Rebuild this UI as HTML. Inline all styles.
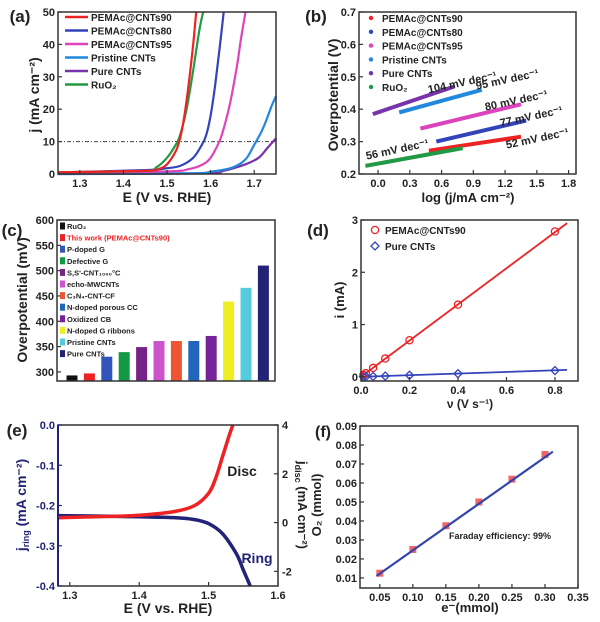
<!DOCTYPE html>
<html><head><meta charset="utf-8">
<style>
html,body{margin:0;padding:0;background:#fff;}
svg{display:block;font-family:"Liberation Sans",Arial,sans-serif;font-weight:bold;}
</style></head>
<body>
<svg id="fig" width="600" height="622" viewBox="0 0 600 622" xmlns="http://www.w3.org/2000/svg"></svg>
<script>
// ---------- Panel (a) data ----------
const aNames = ["PEMAc@CNTs90","PEMAc@CNTs80","PEMAc@CNTs95","Pristine CNTs","Pure CNTs","RuO2"];
const aColors = ["#ee2222","#3344bb","#dd44bb","#2288dd","#7733aa","#229944"];
const aE90 = [1.25,1.45,1.48,1.5,1.52,1.53,1.54,1.55,1.56,1.567];
const aJ90 = [0.5,1,1.5,3,7,11,18,28,40,50];
const aE80 = [1.25,1.45,1.5,1.53,1.56,1.58,1.59,1.6,1.61,1.62,1.63];
const aJ80 = [0.5,1.2,1.8,2.5,5,9,12,18,27,38,50];
const aE95 = [1.25,1.5,1.55,1.58,1.6,1.62,1.63,1.645,1.66,1.67,1.68];
const aJ95 = [0.3,0.8,1.5,2.8,5,10,14,22,33,42,50];
const aEPr = [1.25,1.55,1.6,1.65,1.68,1.7,1.72,1.74,1.75];
const aJPr = [0,0.2,0.7,2,4.5,9,14,21,24];
const aEPu = [1.25,1.58,1.63,1.68,1.71,1.73,1.75];
const aJPu = [0,0.2,1,3,5,8,11];
const aERu = [1.25,1.45,1.475,1.5,1.52,1.53,1.545,1.56,1.575,1.583];
const aJRu = [0.5,1,2,5,9,12,20,32,45,50];
const aXTicks = [1.3,1.4,1.5,1.6,1.7];
const aYTicks = [0,10,20,30,40,50];
// ---------- Panel (b) data ----------
const bNames = ["PEMAc@CNTs90","PEMAc@CNTs80","PEMAc@CNTs95","Pristine CNTs","Pure CNTs","RuO2"];
const bColors = ["#ee2222","#3344bb","#dd44bb","#2288dd","#7733aa","#229944"];
const bXStart = [0.48,0.55,0.4,0.2,-0.05,-0.12];
const bXEnd = [1.35,1.4,1.35,0.98,0.72,0.8];
const bYStart = [0.272,0.3,0.34,0.39,0.385,0.225];
const bYEnd = [0.315,0.365,0.415,0.46,0.47,0.28];
const bSlopes = ["52","77","80","95","104","56"];
const bXTicks = [0.0,0.3,0.6,0.9,1.2,1.5,1.8];
const bYTicks = [0.2,0.3,0.4,0.5,0.6,0.7];
// ---------- Panel (c) data ----------
const cNames = ["RuO\u2082","This work (PEMAc@CNTs90)","P-doped G","Defective G","S,S'-CNT\u2081\u2080\u2080\u2080\u00b0C","echo-MWCNTs","C\u2083N\u2084-CNT-CF","N-doped porous CC","Oxidized CB","N-doped G ribbons","Pristine CNTs","Pure CNTs"];
const cValues = [293,297,330,339,349,361,361,361,371,439,466,510];
const cColors = ["#111111","#ee2222","#3355bb","#119944","#772288","#cc55cc","#ee5533","#2266bb","#772299","#eeee22","#55ccdd","#222277"];
const cYTicks = [300,350,400,450,500,550,600];
// ---------- Panel (d) data ----------
const dV = [0.01,0.02,0.05,0.1,0.2,0.4,0.8];
const dRed = [0.035,0.07,0.17,0.35,0.7,1.38,2.78];
const dBlue = [0.003,0.005,0.008,0.015,0.03,0.06,0.12];
const dRedSlope = [3.46];
const dBlueSlope = [0.155];
const dXTicks = [0.0,0.2,0.4,0.6,0.8];
const dYTicks = [0,1,2,3];
// ---------- Panel (e) data ----------
const eDiscE = [1.283,1.35,1.4,1.45,1.48,1.5,1.51,1.52,1.53,1.535];
const eDiscJ = [0.2,0.25,0.3,0.45,0.7,1.2,1.8,2.7,3.6,4];
const eRingE = [1.283,1.4,1.45,1.48,1.5,1.52,1.54,1.55,1.56];
const eRingJ = [-0.225,-0.228,-0.23,-0.235,-0.245,-0.27,-0.32,-0.36,-0.4];
const eXTicks = [1.3,1.4,1.5,1.6];
const eYTicks = [0,-0.1,-0.2,-0.3,-0.4];
const eY2Ticks = [4,2,0,-2];
// ---------- Panel (f) data ----------
const fX = [0.05,0.10,0.15,0.20,0.25,0.30];
const fY = [0.0125,0.025,0.0375,0.05,0.062,0.075];
const fFitX = [0.045,0.312];
const fFitY = [0.011,0.0765];
const fXTicks = [0.05,0.10,0.15,0.20,0.25,0.30,0.35];
const fYTicks = [0.01,0.02,0.03,0.04,0.05,0.06,0.07,0.08,0.09];

const NS = "http://www.w3.org/2000/svg";
const svg = document.getElementById("fig");
function mk(tag, attrs, parent){
  const el = document.createElementNS(NS, tag);
  for (const k in attrs) el.setAttribute(k, attrs[k]);
  (parent||svg).appendChild(el);
  return el;
}
function sc(d0,d1,p0,p1){return v => p0 + (v-d0)/(d1-d0)*(p1-p0);}
function txt(x,y,s,size,opts){
  opts = opts||{};
  const t = mk("text",{x:x,y:y,"font-size":size,fill:opts.fill||"#222","text-anchor":opts.anchor||"middle"});
  if (opts.rot!==undefined) t.setAttribute("transform","rotate("+opts.rot+" "+x+" "+y+")");
  t.textContent = s;
  return t;
}
function frame(x0,y0,x1,y1,name){
  const r = mk("rect",{x:x0,y:y0,width:x1-x0,height:y1-y0,fill:"none",stroke:"#333","stroke-width":1.5});
  
  
}
function path(pts,color,w,name){
  const p = mk("path",{d:"M"+pts.map(q=>q[0].toFixed(1)+","+q[1].toFixed(1)).join("L"),fill:"none",stroke:color,"stroke-width":w,"stroke-linejoin":"round"});
  
  
  return p;
}
function smooth(pts,color,w,name){
  let d = "M"+pts[0][0].toFixed(1)+","+pts[0][1].toFixed(1);
  for (let i=0;i<pts.length-1;i++){
    const p0=pts[Math.max(0,i-1)], p1=pts[i], p2=pts[i+1], p3=pts[Math.min(pts.length-1,i+2)];
    const c1=[p1[0]+(p2[0]-p0[0])/6, p1[1]+(p2[1]-p0[1])/6];
    const c2=[p2[0]-(p3[0]-p1[0])/6, p2[1]-(p3[1]-p1[1])/6];
    d += "C"+c1[0].toFixed(1)+","+c1[1].toFixed(1)+" "+c2[0].toFixed(1)+","+c2[1].toFixed(1)+" "+p2[0].toFixed(1)+","+p2[1].toFixed(1);
  }
  const p = mk("path",{d:d,fill:"none",stroke:color,"stroke-width":w,"stroke-linejoin":"round"});
  
  
  return p;
}
function xticks(ticks,X,yb,fmt,lab){
  ticks.forEach(v=>{
    mk("line",{x1:X(v),x2:X(v),y1:yb,y2:yb-4,stroke:"#333","stroke-width":1.2});
    const t = txt(X(v),yb+13,fmt(v),11);
    
    
  });
}
function yticks(ticks,Y,xl,fmt,lab,color){
  ticks.forEach(v=>{
    mk("line",{x1:xl,x2:xl+4,y1:Y(v),y2:Y(v),stroke:color||"#333","stroke-width":1.2});
    const t = txt(xl-3,Y(v)+4,fmt(v),11,{anchor:"end",fill:color||"#222"});
    
    
  });
}

// ================= Panel (a) =================
(function(){
  const X = sc(1.25,1.75,58,276), Y = sc(0,50,174,12);
  const dash = mk("line",{x1:58,x2:276,y1:Y(10),y2:Y(10),stroke:"#444","stroke-width":1,"stroke-dasharray":"4,2,1,2"});
  
  
  const Es=[aE90,aE80,aE95,aEPr,aEPu,aERu], Js=[aJ90,aJ80,aJ95,aJPr,aJPu,aJRu];
  const order=[4,3,2,1,5,0];
  order.forEach(i=>{
    smooth(Es[i].map((e,k)=>[X(e),Y(Js[i][k])]),aColors[i],2.2,"lsv-curve-"+i);
  });
  frame(58,12,276,174,"panel-a-plot-area");
  xticks(aXTicks,X,174,v=>v.toFixed(1),"a-x");
  yticks(aYTicks,Y,58,v=>String(v),"a-y");
  aNames.forEach((n,i)=>{
    const y = 17+i*13.5;
    mk("line",{x1:65,x2:88,y1:y,y2:y,stroke:aColors[i],"stroke-width":2.5});
    const t = txt(91,y+4,n==="RuO2"?"RuO\u2082":n,10,{anchor:"start"});
    
    
  });
  const xt = txt(167,202,"E (V vs. RHE)",14);  
  const yt = txt(39,95,"j (mA cm\u207b\u00b2)",14,{rot:-90});  
  const pl = txt(20,22,"(a)",17);  
})();

// ================= Panel (b) =================
(function(){
  const X = sc(-0.18,1.87,359,576), Y = sc(0.2,0.7,174,12);
  bXStart.forEach((xs,i)=>{
    path([[X(xs),Y(bYStart[i])],[X(bXEnd[i]),Y(bYEnd[i])]],bColors[i],4,"tafel-line-"+i);
  });
  frame(359,12,576,174,"panel-b-plot-area");
  xticks(bXTicks,X,174,v=>v.toFixed(1),"b-x");
  yticks(bYTicks,Y,359,v=>v.toFixed(1),"b-y");
  bNames.forEach((n,i)=>{
    const y = 18+i*13.8;
    mk("circle",{cx:371,cy:y,r:2.2,fill:bColors[i]});
    const t = txt(382,y+4,n==="RuO2"?"RuO\u2082":n,10,{anchor:"start"});
    
    
  });
  const ann = [[538,142,0],[532,120,1],[517,104,2],[508,83,3],[463,86,4],[398,153,5]];
  ann.forEach(a=>{
    const t = txt(a[0],a[1],bSlopes[a[2]]+" mV dec\u207b\u00b9",11,{rot:-12});
    
    
  });
  const xt = txt(468,202,"log (j/mA cm\u207b\u00b2)",13);  
  const yt = txt(338,95,"Overpotential (V)",14,{rot:-90});  
  const pl = txt(316,22,"(b)",17);  
})();

// ================= Panel (c) =================
(function(){
  const Y = sc(282,600,381,220);
  cValues.forEach((v,i)=>{
    const cx = 72+i*17.4;
    const r = mk("rect",{x:cx-5.5,y:Y(v),width:11,height:381-Y(v),fill:cColors[i]});
    
    
  });
  frame(57,220,275,381,"panel-c-plot-area");
  yticks(cYTicks,Y,57,v=>String(v),"c-y");
  cNames.forEach((nm,i)=>{
    const y = 226+i*11.6;
    mk("rect",{x:60,y:y-3.5,width:5,height:7,fill:cColors[i]});
    const t = txt(67,y+3,nm,7.5,{anchor:"start",fill:i===1?"#ee2222":"#222"});
    
    
  });
  const yt = txt(27,300,"Overpotential (mV)",14,{rot:-90});  
  const pl = txt(12,236,"(c)",17);  
})();

// ================= Panel (d) =================
(function(){
  const X = sc(0,0.895,361,578), Y = sc(-0.08,3,381,220);
  path([[X(0),Y(0)],[X(0.85),Y(0.85*dRedSlope[0])]],"#ee2222",1.8,"red-fit-line");
  path([[X(0),Y(0)],[X(0.85),Y(0.85*dBlueSlope[0])]],"#3344bb",1.8,"blue-fit-line");
  dV.forEach((v,i)=>{
    const c = mk("circle",{cx:X(v),cy:Y(dRed[i]),r:3.6,fill:"none",stroke:"#ee2222","stroke-width":1.3});
    
    
    const px=X(v), py=Y(dBlue[i]);
    const d = mk("path",{d:`M${px},${py-4}L${px+4},${py}L${px},${py+4}L${px-4},${py}Z`,fill:"none",stroke:"#3344bb","stroke-width":1.3});
    
    
  });
  frame(361,220,578,381,"panel-d-plot-area");
  xticks(dXTicks,X,381,v=>v.toFixed(1),"d-x");
  yticks(dYTicks,Y,361,v=>String(v),"d-y");
  mk("circle",{cx:375,cy:230,r:3.6,fill:"none",stroke:"#ee2222","stroke-width":1.3});
  mk("path",{d:"M375,242L379,246L375,250L371,246Z",fill:"none",stroke:"#3344bb","stroke-width":1.3});
  const l1 = txt(385,234,"PEMAc@CNTs90",10,{anchor:"start"});  
  const l2 = txt(385,250,"Pure CNTs",10,{anchor:"start"});  
  const xt = txt(470,408,"\u03bd (V s\u207b\u00b9)",12);  
  const yt = txt(344,300,"i (mA)",13,{rot:-90});  
  const pl = txt(318,236,"(d)",17);  
})();

// ================= Panel (e) =================
(function(){
  const X = sc(1.283,1.6,58,278), Y = sc(0,-0.4,425,586), Y2 = sc(-2.6,4,586,425);
  smooth(eRingE.map((e,k)=>[X(e),Y(eRingJ[k])]),"#222277",3.5,"ring-curve");
  smooth(eDiscE.map((e,k)=>[X(e),Y2(eDiscJ[k])]),"#ee2222",3.5,"disc-curve");
  frame(58,425,278,586,"panel-e-plot-area");
  mk("line",{x1:58,x2:58,y1:425,y2:586,stroke:"#222277","stroke-width":2});
  xticks(eXTicks,X,586,v=>v.toFixed(1),"e-x");
  yticks(eYTicks,Y,58,v=>v.toFixed(1),"e-y","#222277");
  eY2Ticks.forEach(v=>{
    mk("line",{x1:278,x2:274,y1:Y2(v),y2:Y2(v),stroke:"#333","stroke-width":1.2});
    const t = txt(282,Y2(v)+4,String(v),11,{anchor:"start"});
    
    
  });
  const d = txt(242,476,"Disc",14);  
  const r = txt(257,563,"Ring",14,{fill:"#222277"});  
  const xt = txt(168,613,"E (V vs. RHE)",14);  
  const yt = mk("text",{x:26,y:505,"font-size":14,fill:"#222277","text-anchor":"middle",transform:"rotate(-90 26 505)"});
   
  yt.appendChild(document.createTextNode("j"));
  const ts = mk("tspan",{"font-size":9,dy:3},yt); ts.textContent="ring";
  const ts2 = mk("tspan",{dy:-3},yt); ts2.textContent=" (mA cm\u207b\u00b2)";
  const yt2 = mk("text",{x:298,y:505,"font-size":13,fill:"#222","text-anchor":"middle",transform:"rotate(90 298 505)"});
   
  yt2.appendChild(document.createTextNode("j"));
  const u = mk("tspan",{"font-size":9,dy:3},yt2); u.textContent="disc";
  const u2 = mk("tspan",{dy:-3},yt2); u2.textContent=" (mA cm\u207b\u00b2)";
  const pl = txt(17,436,"(e)",17);  
})();

// ================= Panel (f) =================
(function(){
  const X = sc(0.02,0.35,360,578), Y = sc(0.0047,0.09,588,426);
  fX.forEach((v,i)=>{
    const r = mk("rect",{x:X(v)-3.5,y:Y(fY[i])-3.5,width:7,height:7,fill:"#ee6666"});
    
    
  });
  path([[X(fFitX[0]),Y(fFitY[0])],[X(fFitX[1]),Y(fFitY[1])]],"#3344aa",2.2,"o2-fit-line");
  frame(360,426,578,588,"panel-f-plot-area");
  xticks(fXTicks,X,588,v=>v.toFixed(2),"f-x");
  yticks(fYTicks,Y,360,v=>v.toFixed(2),"f-y");
  const fe = txt(449,539,"Faraday efficiency: 99%",9,{anchor:"start"});  
  const xt = txt(470,612,"e\u207b(mmol)",13);  
  const yt = txt(321,505,"O\u2082 (mmol)",13,{rot:-90});  
  const pl = txt(323,437,"(f)",16);  
})();
</script>
</body></html>
